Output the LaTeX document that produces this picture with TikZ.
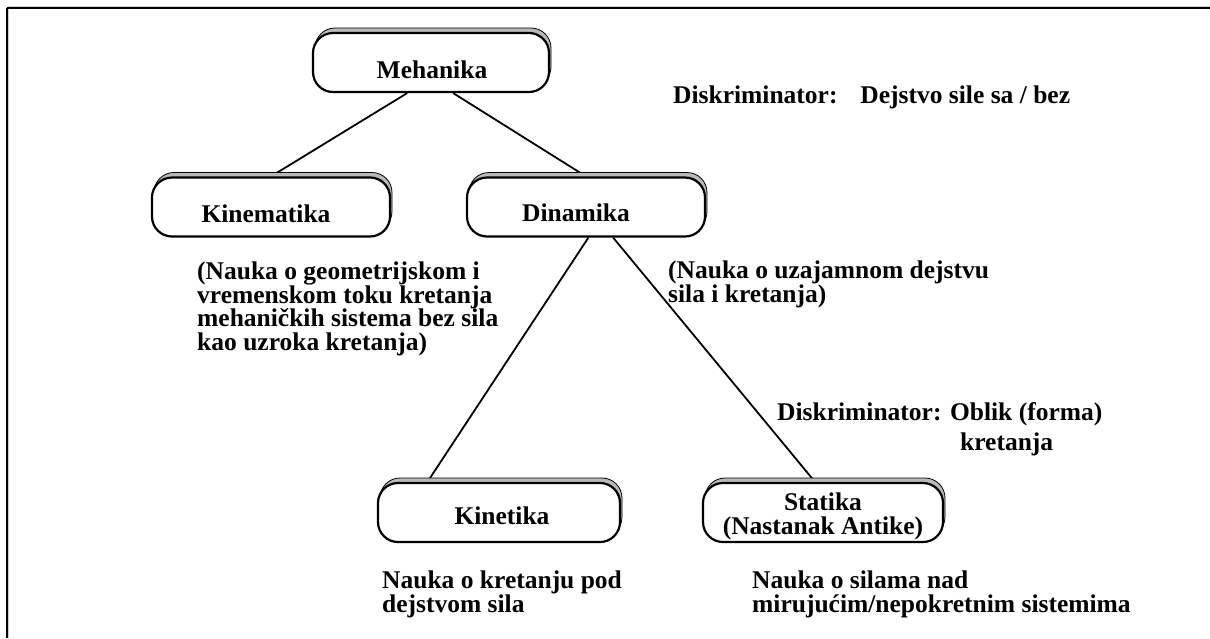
\documentclass[tikz,border=0pt]{standalone}
\usepackage{fontspec}
\setmainfont{Liberation Serif}
\usetikzlibrary{calc,backgrounds}
\begin{document}
\begin{tikzpicture}[x=1pt,y=-1pt,
  conn/.style={line width=1.8pt, black},
  termbox/.style={rounded corners=20pt, line width=2.2pt, draw=black, fill=white,
    inner sep=0pt, minimum height=59pt,
    preaction={draw=black, line width=0.8pt, fill=gray!55,
      transform canvas={shift={(2pt,5pt)}}}},
  termtext/.style={inner sep=0pt, align=center,
    font=\bfseries\fontsize{25.5}{24.5}\selectfont},
  note/.style={inner sep=0pt, align=left, anchor=north west,
    font=\bfseries\fontsize{25.5}{23.5}\selectfont}]
\useasboundingbox (0,0) rectangle (1210,638);

% page frame with a faint edge shadow
\draw[gray!40, line width=1pt] (8,6.5) -- (1210,6.5);
\draw[gray!40, line width=1pt] (8.8,9) -- (8.8,638);
\draw[black, line width=1.6pt] (6.8,8) -- (1210,8);
\draw[black, line width=1.6pt] (6.8,8) -- (6.8,638);

% tree boxes
\node[termbox, minimum width=236pt] (meh) at (431,62.5) {};
\node[termbox, minimum width=238pt] (kin) at (271,207) {};
\node[termbox, minimum width=238pt] (din) at (586,207) {};
\node[termbox, minimum width=242pt] (kinet) at (499,512.5) {};
\node[termbox, minimum width=240pt] (stat) at (823,512.5) {};

% box labels
\node[termtext] (mehL) at ($(meh)+(1,7)$) {Mehanika};
\node[termtext] (kinL) at ($(kin)+(-5,6.5)$) {Kinematika};
\node[termtext] (dinL) at ($(din)+(-10,6)$) {Dinamika};
\node[termtext] (kinetL) at ($(kinet)+(3,3)$) {Kinetika};
\node[termtext] (statL) at ($(stat)+(0,4)$) {Statika\\(Nastanak Antike)};

% connectors, kept behind the boxes
\begin{scope}[on background layer]
\draw[conn] ($(meh.south west)!0.40!(meh.south east)$) -- (kin.north);
\draw[conn] ($(meh.south west)!0.593!(meh.south east)$) -- (din.north);
\draw[conn] ($(din.south west)!0.51!(din.south east)$) -- ($(kinet.north west)!0.207!(kinet.north east)$);
\draw[conn] ($(din.south west)!0.613!(din.south east)$) -- ($(stat.north west)!0.467!(stat.north east)$);
\end{scope}

% annotations
\node[note] (d1) at (673,86) {Diskriminator:\hspace{0.9em}Dejstvo sile sa / bez};
\node[note] (kintxt) at (197,262) {(Nauka o geometrijskom i\\vremenskom toku kretanja\\mehaničkih sistema bez sila\\kao uzroka kretanja)};
\node[note] (dintxt) at (668,261) {(Nauka o uzajamnom dejstvu\\sila i kretanja)};
\node[note, font=\bfseries\fontsize{25.5}{30}\selectfont] (d2) at (777,402.5) {Diskriminator: Oblik (forma)\\\hspace*{183pt}kretanja};
\node[note] (kntxt) at (382,571) {Nauka o kretanju pod\\dejstvom sila};
\node[note] (sttxt) at (752,571) {Nauka o silama nad\\mirujućim/nepokretnim sistemima};
\end{tikzpicture}
\end{document}
